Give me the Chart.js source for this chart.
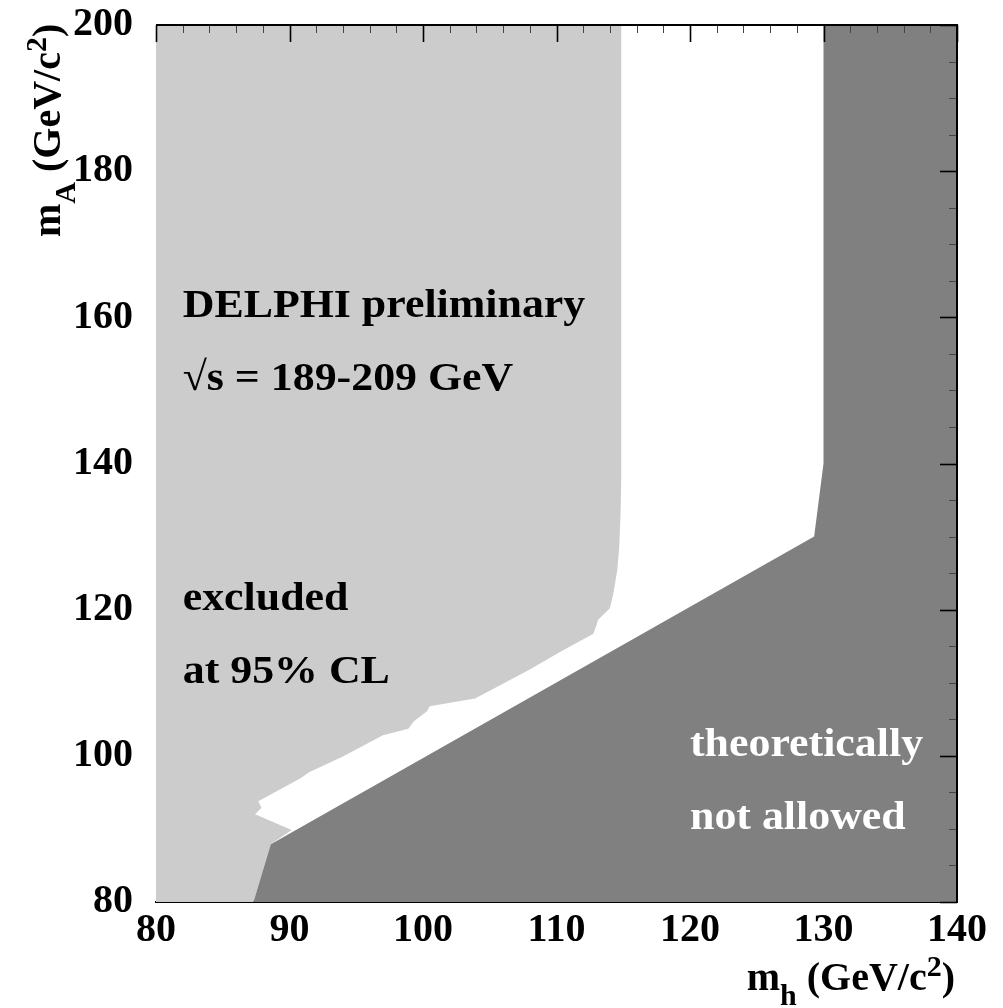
<!DOCTYPE html>
<html>
<head>
<meta charset="utf-8">
<script src="https://cdn.jsdelivr.net/npm/chart.js@4.4.1/dist/chart.umd.min.js"></script>
<style>
html,body{margin:0;padding:0;background:#fff;}
#wrap{width:1003px;height:1008px;position:relative;}
canvas{display:block;}
</style>
</head>
<body>
<div id="wrap"><canvas id="c" width="1003" height="1008"></canvas></div>
<script>
// ---- data ----
const xTickValues = [80, 90, 100, 110, 120, 130, 140];
const yTickValues = [80, 100, 120, 140, 160, 180, 200];

// excluded at 95% CL region outline (m_h, m_A)
const excludedMh = [80, 114.85, 114.85, 114.8, 114.7, 114.55, 114.26, 114.0, 113.1, 113.0, 112.76, 110.26, 108.0, 103.9, 100.5, 100.3, 99.3, 98.9, 97.0, 94.0, 91.5, 90.8, 87.66, 87.9, 87.42, 90.16, 88.6, 87.3, 80];
const excludedMA = [200, 200, 137.7, 133.2, 128.6, 125.4, 122.2, 120.2, 118.6, 117.9, 116.7, 114.2, 111.8, 107.85, 106.8, 106.1, 104.7, 103.7, 102.8, 99.9, 97.8, 96.9, 93.8, 92.9, 92.0, 89.85, 87.9, 80, 80];

// theoretically not allowed region outline (m_h, m_A)
const theoryMh = [87.3, 88.6, 129.3, 130, 130, 140, 140];
const theoryMA = [80, 87.9, 130, 140, 200, 200, 80];

const noteLines = ['DELPHI preliminary', '\u221As = 189-209 GeV', 'excluded', 'at 95% CL', 'theoretically', 'not allowed'];

const toPts = (xs, ys) => xs.map((v, i) => ({x: v, y: ys[i]}));

const FONT = '"Liberation Serif", "Times New Roman", serif';

function drawParts(ctx, parts) {
  let x = 0;
  for (const [t, s, dy] of parts) {
    ctx.font = 'bold ' + s + 'px ' + FONT;
    ctx.fillText(t, x, dy);
    x += ctx.measureText(t).width;
  }
  return x;
}
function measureParts(ctx, parts) {
  let w = 0;
  for (const [t, s] of parts) {
    ctx.font = 'bold ' + s + 'px ' + FONT;
    w += ctx.measureText(t).width;
  }
  return w;
}

const overlay = {
  id: 'overlay',
  afterDraw(chart) {
    const {ctx, chartArea: a} = chart;
    const xs = chart.scales.x, ys = chart.scales.y;
    ctx.save();
    // inward ticks on top and right
    for (let v = 80; v <= 140; v += 2) {
      const px = Math.round(xs.getPixelForValue(v)) + 0.5;
      const major = v % 10 === 0;
      ctx.lineWidth = major ? 1.6 : 1;
      ctx.strokeStyle = major ? '#000' : '#444';
      ctx.beginPath();
      ctx.moveTo(px, a.top);
      ctx.lineTo(px, a.top + (major ? 17 : 8));
      ctx.stroke();
    }
    for (let v = 80; v <= 200; v += 5) {
      const py = Math.round(ys.getPixelForValue(v)) + 0.5;
      const major = v % 20 === 0;
      ctx.lineWidth = major ? 1.6 : 1;
      ctx.strokeStyle = major ? '#000' : '#444';
      ctx.beginPath();
      ctx.moveTo(a.right, py);
      ctx.lineTo(a.right - (major ? 17 : 8), py);
      ctx.stroke();
    }
    // frame top + right
    ctx.lineWidth = 2;
    ctx.strokeStyle = '#000';
    ctx.beginPath();
    ctx.moveTo(a.left, a.top);
    ctx.lineTo(a.right, a.top);
    ctx.lineTo(a.right, a.bottom);
    ctx.stroke();

    // annotations
    const anchors = [[82, 160], [82, 150], [82, 120], [82, 110], [120, 100], [120, 90]];
    const colors = ['#000', '#000', '#000', '#000', '#fff', '#fff'];
    ctx.textBaseline = 'alphabetic';
    ctx.textAlign = 'left';
    ctx.font = 'bold 41px ' + FONT;
    noteLines.forEach((t, i) => {
      const px = xs.getPixelForValue(anchors[i][0]);
      const py = ys.getPixelForValue(anchors[i][1]);
      ctx.save();
      ctx.translate(px, py);
      ctx.scale(1.07, 1);
      ctx.fillStyle = colors[i];
      ctx.fillText(t, 0, 0);
      ctx.restore();
    });

    // axis titles
    ctx.fillStyle = '#000';
    const xt = [['m', 40, 0], ['h', 30, 15], [' (GeV/c', 40, 0], ['2', 30, -14], [')', 40, 0]];
    const wx = measureParts(ctx, xt);
    ctx.save();
    ctx.translate(a.right - 2 - wx, a.bottom + 88);
    drawParts(ctx, xt);
    ctx.restore();

    const yt = [['m', 40, 0], ['A', 30, 15], [' (GeV/c', 40, 0], ['2', 30, -14], [')', 40, 0]];
    ctx.save();
    ctx.translate(60, a.top + 212);
    ctx.rotate(-Math.PI / 2);
    drawParts(ctx, yt);
    ctx.restore();

    ctx.restore();
  }
};

const tickFont = {family: FONT, weight: 'bold', size: 40};

new Chart(document.getElementById('c'), {
  type: 'scatter',
  data: {
    datasets: [
      {
        label: 'theoretically not allowed',
        data: toPts(theoryMh, theoryMA),
        showLine: true,
        fill: 'shape',
        backgroundColor: '#808080',
        borderColor: 'rgba(0,0,0,0)',
        borderWidth: 0,
        pointRadius: 0,
        tension: 0,
        order: 0
      },
      {
        label: 'excluded at 95% CL',
        data: toPts(excludedMh, excludedMA),
        showLine: true,
        fill: 'shape',
        backgroundColor: '#cccccc',
        borderColor: 'rgba(0,0,0,0)',
        borderWidth: 0,
        pointRadius: 0,
        tension: 0,
        order: 1
      }
    ]
  },
  options: {
    responsive: false,
    animation: false,
    devicePixelRatio: 1,
    layout: {padding: {top: 25, right: 46, left: 0, bottom: 0}},
    plugins: {legend: {display: false}, tooltip: {enabled: false}},
    scales: {
      x: {
        type: 'linear', min: 80, max: 140,
        afterFit(s) { s.height = 106; s.paddingLeft = 0; s.paddingRight = 0; },
        afterBuildTicks(s) { s.ticks = xTickValues.map(v => ({value: v})); },
        grid: {display: false, drawTicks: false},
        border: {display: true, color: '#000', width: 2},
        ticks: {font: tickFont, color: '#000', padding: 5, maxRotation: 0, autoSkip: false}
      },
      y: {
        type: 'linear', min: 80, max: 200,
        afterFit(s) { s.width = 156; s.paddingTop = 0; s.paddingBottom = 0; },
        afterBuildTicks(s) { s.ticks = yTickValues.map(v => ({value: v})); },
        grid: {display: false, drawTicks: false},
        border: {display: false},
        ticks: {font: tickFont, color: '#000', padding: 23, autoSkip: false}
      }
    }
  },
  plugins: [overlay]
});
</script>
</body>
</html>
